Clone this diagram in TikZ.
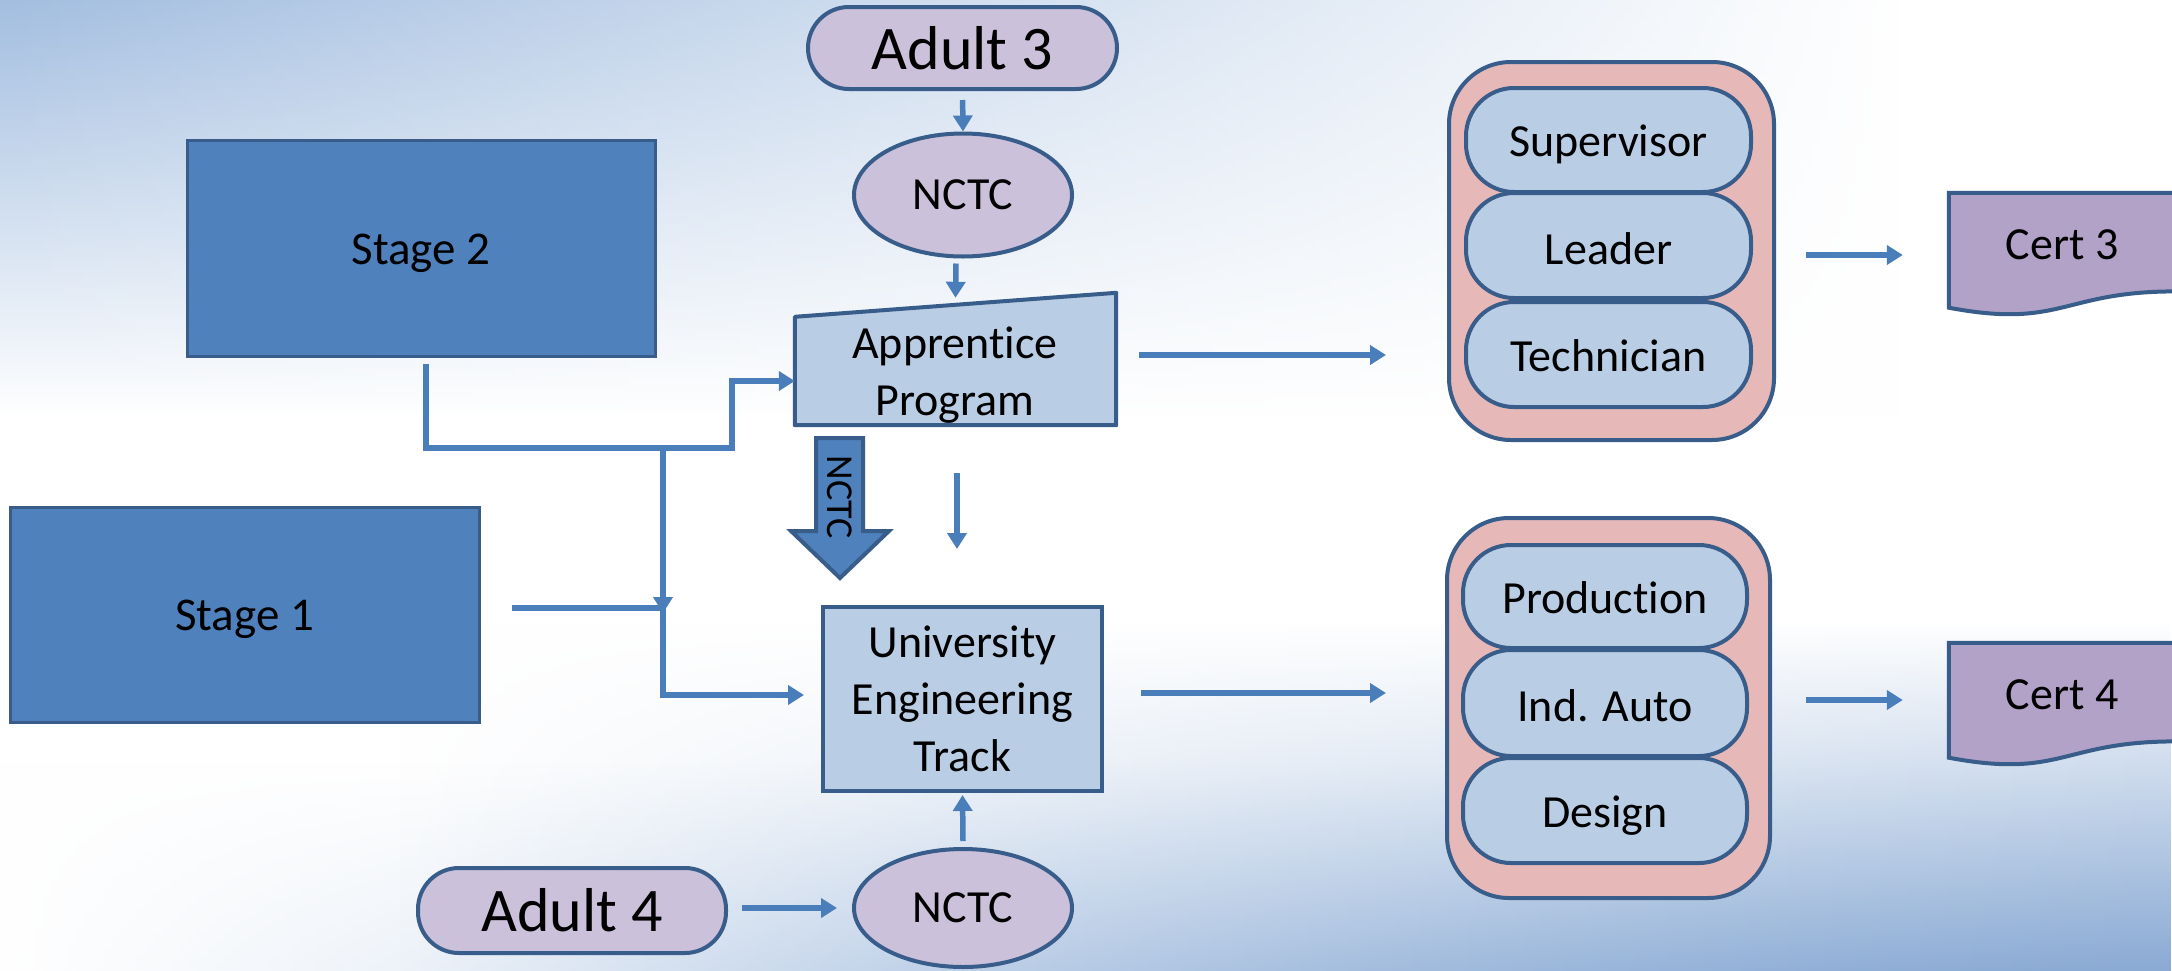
\documentclass[tikz,border=0pt]{standalone}
\usepackage{fontspec}
\setmainfont{Carlito}[Ligatures={NoCommon}]
\usetikzlibrary{arrows.meta,fadings,shapes.geometric}
\definecolor{stagefill}{RGB}{79,129,189}
\definecolor{bord}{RGB}{56,93,138}
\definecolor{lightbox}{RGB}{185,205,229}
\definecolor{lilac}{RGB}{204,193,218}
\definecolor{rose}{RGB}{230,185,184}
\definecolor{certfill}{RGB}{179,162,199}
\definecolor{arrowc}{RGB}{74,126,187}
\definecolor{bgblue}{RGB}{163,190,224}
\definecolor{bgdeep}{RGB}{138,170,212}
\tikzfading[name=opaqueleft, left color=transparent!0, right color=transparent!100]
\tikzfading[name=opaqueright, left color=transparent!100, right color=transparent!0]
\newcommand{\lowr}[2]{\raisebox{-#1pt}[\height][\depth]{#2}}
\tikzset{
  fs/.style={font=\fontsize{#1pt}{57pt}\selectfont},
  stagebox/.style={rectangle, fill=stagefill, draw=bord, line width=3pt, fs=47, inner sep=0pt},
  bluebox/.style={rectangle, fill=lightbox, draw=bord, line width=4pt, fs=46, inner sep=0pt, align=center},
  pill/.style={rectangle, rounded corners=41pt, fill=lilac, draw=bord, line width=4pt, fs=62, inner sep=0pt},
  oval/.style={ellipse, fill=lilac, draw=bord, line width=4pt, fs=46, inner sep=0pt},
  group/.style={rectangle, rounded corners=62pt, fill=rose, draw=bord, line width=4pt, inner sep=0pt},
  item/.style={rectangle, rounded corners=48pt, fill=lightbox, draw=bord, line width=4pt, fs=46, inner sep=0pt, minimum width=285pt},
  certshape/.style={fill=certfill, draw=bord, line width=4pt},
  arr/.style={draw=arrowc, line width=5.5pt, -{Triangle[width=19pt,length=16pt]}},
}
\begin{document}
\begin{tikzpicture}[x=1pt,y=-1pt]
\useasboundingbox (0,0) rectangle (2172,970);
% background
\fill[white] (0,0) rectangle (2172,970);
\shade[top color=bgblue, bottom color=white, path fading=opaqueleft] (0,0) rectangle (1900,420);
\shade[top color=white, bottom color=bgblue, path fading=opaqueright] (0,760) rectangle (2172,970);
\shade[top color=white, bottom color=bgdeep, path fading=opaqueright] (400,620) rectangle (2172,970);

% stages
\node[stagebox, minimum width=468pt, minimum height=216pt] (stage2) at (421,248) {\lowr{5}{Stage 2}};
\node[stagebox, minimum width=469pt, minimum height=215pt] (stage1) at (244.5,614.5) {\lowr{5}{Stage 1}};

% top column
\node[pill, minimum width=309pt, minimum height=82pt] (adult3) at (962.5,48) {Adult 3};
\node[oval, minimum width=218pt, minimum height=123pt] (nctc1) at (963,195) {NCTC};
\node[rectangle, minimum width=321pt, minimum height=132pt, inner sep=0pt] (app) at (955.5,359) {};
\draw[fill=lightbox, draw=bord, line width=4pt, line join=round]
  (app.south west) -- ([yshift=-24pt]app.north west) -- (app.north east) -- (app.south east) -- cycle;
\node[fs=46, align=center] (apptext) at (955,375) {Apprentice\\Program};

% block arrow
\draw[fill=stagefill, draw=bord, line width=4pt]
  (816,438) -- (863,438) -- (863,531) -- (889,531) -- (840,578) -- (791,531) -- (816,531) -- cycle;
\node[rotate=-90, font=\fontsize{38pt}{40pt}\selectfont, inner sep=0pt] (nctcarrow) at (840,497) {NCTC};

\node[bluebox, minimum width=279pt, minimum height=184pt] (uni) at (962.5,699) {University\\Engineering\\Track};
\node[oval, minimum width=218pt, minimum height=118pt] (nctc2) at (963,908) {NCTC};
\node[pill, minimum width=308pt, minimum height=85pt] (adult4) at (572,910.5) {Adult 4};

% groups
\node[group, minimum width=325pt, minimum height=378pt] (group1) at (1611.5,251) {};
\node[item, minimum height=104pt] (sup) at (1608.5,140) {\lowr{4}{Supervisor}};
\node[item, minimum height=105pt] (lead) at (1608.5,245.5) {\lowr{3}{Leader}};
\node[item, minimum height=105pt] (tech) at (1608.5,354.5) {\lowr{1}{Technician}};

\node[group, minimum width=323pt, minimum height=380pt] (group2) at (1608.5,708) {};
\node[item, minimum width=284pt, minimum height=103pt] (prod) at (1605,596.5) {\lowr{1}{Production}};
\node[item, minimum width=284pt, minimum height=106pt] (ind) at (1605,703) {\lowr{3}{Ind. Auto}};
\node[item, minimum width=284pt, minimum height=105pt] (des) at (1605,810.5) {\lowr{5}{Design}};

% certificates
\node[rectangle, minimum width=226pt, minimum height=123pt, inner sep=0pt] (cert3) at (2062,254.5) {};
\draw[certshape] (cert3.north west) -- (cert3.north east) -- ([yshift=-98.6pt]cert3.north east)
  .. controls ([yshift=-98.6pt]cert3.north) and ([yshift=-136.2pt]cert3.north) .. ([yshift=-114.9pt]cert3.north west) -- cycle;
\node[fs=46] (cert3text) at ([yshift=10pt]cert3.center) {Cert 3};

\node[rectangle, minimum width=226pt, minimum height=123pt, inner sep=0pt] (cert4) at (2062,704.5) {};
\draw[certshape] (cert4.north west) -- (cert4.north east) -- ([yshift=-98.6pt]cert4.north east)
  .. controls ([yshift=-98.6pt]cert4.north) and ([yshift=-136.2pt]cert4.north) .. ([yshift=-114.9pt]cert4.north west) -- cycle;
\node[fs=46] (cert4text) at ([yshift=9.5pt]cert4.center) {Cert 4};

% connectors
\draw[arr, shorten <=9pt] (adult3.south) -- (nctc1.north);
\draw[arr] ([xshift=-7pt,yshift=-5pt]nctc1.south) -- ([yshift=-5pt]app.north);
\draw[arr] ([shift={(1.5pt,-48pt)}]app.south) -- ([shift={(-5.5pt,56pt)}]uni.north);
\draw[arr, shorten <=23pt, shorten >=61pt] ([yshift=4pt]app.east) -- ([yshift=4pt]app.east -| group1.west);
\draw[arr, shorten <=37pt, shorten >=59pt] ([yshift=6pt]uni.east) -- ([yshift=6pt]uni.east -| group2.west);
\draw[arr, shorten <=30pt, shorten >=46pt] ([yshift=-4pt]group1.east) -- ([yshift=-4pt]group1.east -| cert3.west);
\draw[arr, shorten <=34pt, shorten >=46pt] ([yshift=8pt]group2.east) -- ([yshift=8pt]group2.east -| cert4.west);
\draw[arr, shorten <=14pt, shorten >=15pt] ([yshift=2.5pt]adult4.east) -- ([yshift=2.5pt]adult4.east -| nctc2.west);
\draw[arr, shorten >=2pt] ([yshift=6pt]nctc2.north) -- (uni.south);

\coordinate (j2) at (663,448);
\coordinate (ja) at (663,613);
\coordinate (j3) at (732,381);
\coordinate (j4) at (663,608);
\draw[arr] ([shift={(5pt,-6pt)}]stage2.south) |- (j2) -- (ja);
\draw[arr] (j2) -| (j3) -- (j3 -| app.west);
\draw[arr, shorten <=31pt, shorten >=17pt] ([yshift=6.5pt]stage1.east) -- (j4) |- ([yshift=4pt]uni.west);
\end{tikzpicture}
\end{document}
